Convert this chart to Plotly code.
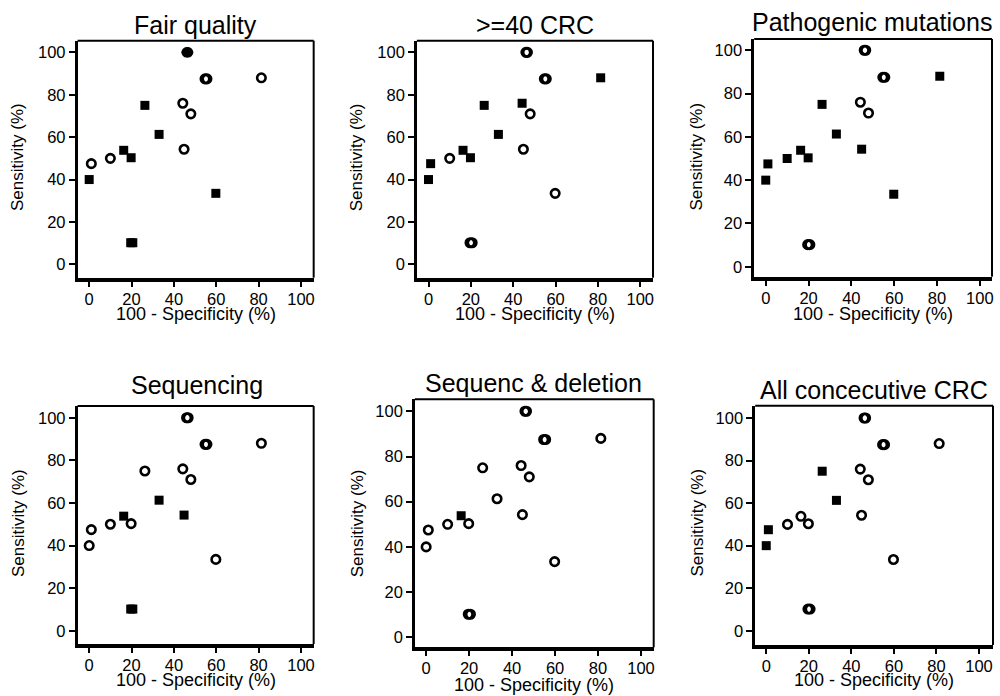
import plotly.graph_objects as go

# ---- data: each study's 100 - specificity (%) and sensitivity (%) ----
fpr = [0, 1, 10, 16.3, 19.8, 19.6, 20.6, 26.3, 33, 44.2, 44.8, 46.0, 46.7, 48, 54.7, 55.6, 59.8, 81.3]
sens = [40, 47.5, 50, 53.8, 50.3, 10.2, 10.2, 75, 61.3, 76, 54.3, 100, 100, 71, 87.5, 87.5, 33.5, 88]

panel_titles = ["Fair quality", ">=40 CRC", "Pathogenic mutations",
                "Sequencing", "Sequenc & deletion", "All concecutive CRC"]

# 1 = criterion met (filled square), 0 = not met (open circle), 2 = filled circle
fair_quality = [1, 0, 0, 1, 1, 1, 1, 1, 1, 0, 0, 2, 2, 0, 0, 0, 1, 0]
crc_40 = [1, 1, 0, 1, 1, 0, 0, 1, 1, 1, 0, 0, 0, 0, 0, 0, 0, 1]
pathogenic = [1, 1, 1, 1, 1, 0, 0, 1, 1, 0, 1, 0, 0, 0, 0, 0, 1, 1]
sequencing = [0, 0, 0, 1, 0, 1, 1, 0, 1, 0, 1, 0, 0, 0, 0, 0, 0, 0]
seq_deletion = [0, 0, 0, 1, 0, 0, 0, 0, 0, 0, 0, 0, 0, 0, 0, 0, 0, 0]
all_consec = [1, 1, 0, 0, 0, 0, 0, 1, 1, 0, 0, 0, 0, 0, 0, 0, 0, 0]
panel_flags = [fair_quality, crc_40, pathogenic, sequencing, seq_deletion, all_consec]

tick_vals = [0, 20, 40, 60, 80, 100]
x_title = "100 - Specificity (%)"
y_title = "Sensitivity (%)"

# ---- layout geometry (pixels in a 1000 x 696 canvas) ----
W, H = 1000, 696
# frame left, right, top, bottom
frames = [(77.7, 314.3, 40.7, 277.7), (417.7, 654.3, 40.7, 277.7), (755.7, 994, 39, 276.7),
          (77.7, 314.3, 406, 644), (415.7, 655, 399.3, 647.3), (756.7, 995, 405.7, 645)]
xranges = [[-5.5, 106], [-5.5, 106], [-5.4, 105.7], [-5.5, 106], [-5.25, 105.9], [-5.2, 106.6]]
yranges = [[-6.3, 105.5], [-6.3, 105.5], [-4.6, 105.2], [-6.2, 105.5], [-4.4, 105.3], [-6.7, 105.8]]
title_pos = [(196, 25), (536, 25), (874, 22), (197, 385), (535, 383), (876, 390)]
ytitle_pos = [(18, 157), (358, 157), (698, 157), (18, 523), (358, 523), (698, 523)]
xtitle_y = [314, 314, 314, 680, 685, 680]

FONT = "Liberation Sans, Arial, sans-serif"

fig = go.Figure()
layout = dict(width=W, height=H, margin=dict(l=0, r=0, t=0, b=0),
              paper_bgcolor="white", plot_bgcolor="white", showlegend=False,
              font=dict(family=FONT, color="black"))
annotations = []
shapes = []

for i in range(6):
    n = "" if i == 0 else str(i + 1)
    xa, ya = "x" + n, "y" + n
    flags = panel_flags[i]
    styles = [
        (0, dict(symbol="circle-open", size=8.5, color="black", line=dict(width=2.6, color="black"))),
        (1, dict(symbol="square", size=9, color="black", line=dict(width=0))),
        (2, dict(symbol="circle", size=10.5, color="black", line=dict(width=0))),
    ]
    for val, mk in styles:
        xs = [fpr[k] for k in range(len(fpr)) if flags[k] == val]
        ys = [sens[k] for k in range(len(sens)) if flags[k] == val]
        if xs:
            fig.add_trace(go.Scatter(x=xs, y=ys, mode="markers", marker=mk,
                                     xaxis=xa, yaxis=ya, cliponaxis=False, hoverinfo="skip"))
    L, R, T, B = frames[i]
    axx = dict(domain=[L / W, R / W], range=xranges[i], anchor=ya,
               tickvals=tick_vals, ticks="outside", ticklen=5, tickwidth=2, tickcolor="black",
               showline=True, linewidth=4, linecolor="black", mirror=False, ticklabelstandoff=-2,
               showgrid=False, zeroline=False, tickfont=dict(size=16.5, family=FONT, color="black"))
    axy = dict(domain=[1 - B / H, 1 - T / H], range=yranges[i], anchor=xa,
               tickvals=tick_vals, ticks="outside", ticklen=6, tickwidth=2, tickcolor="black",
               showline=True, linewidth=2.5, linecolor="black", mirror=False,
               showgrid=False, zeroline=False, tickfont=dict(size=16.5, family=FONT, color="black"))
    layout["xaxis" + n] = axx
    layout["yaxis" + n] = axy
    # top and right frame lines
    shapes.append(dict(type="line", xref=xa + " domain", yref=ya + " domain",
                       x0=0, x1=1, y0=1, y1=1, line=dict(color="black", width=2)))
    shapes.append(dict(type="line", xref=xa + " domain", yref=ya + " domain",
                       x0=1, x1=1, y0=0, y1=1, line=dict(color="black", width=2)))
    tx, ty = title_pos[i]
    annotations.append(dict(text=panel_titles[i], x=tx / W, y=1 - ty / H, xref="paper", yref="paper",
                            showarrow=False, xanchor="center", yanchor="middle",
                            font=dict(size=25, family=FONT, color="black")))
    yx, yy = ytitle_pos[i]
    annotations.append(dict(text=y_title, x=yx / W, y=1 - yy / H, xref="paper", yref="paper",
                            showarrow=False, xanchor="center", yanchor="middle", textangle=-90,
                            font=dict(size=17, family=FONT, color="black")))
    annotations.append(dict(text=x_title, x=(L + R) / 2 / W, y=1 - xtitle_y[i] / H, xref="paper",
                            yref="paper", showarrow=False, xanchor="center", yanchor="middle",
                            font=dict(size=18, family=FONT, color="black")))

layout["annotations"] = annotations
layout["shapes"] = shapes
fig.update_layout(**layout)
fig.write_html("out.html", config={"displayModeBar": False},
               post_script="document.body.style.margin='0px';")
